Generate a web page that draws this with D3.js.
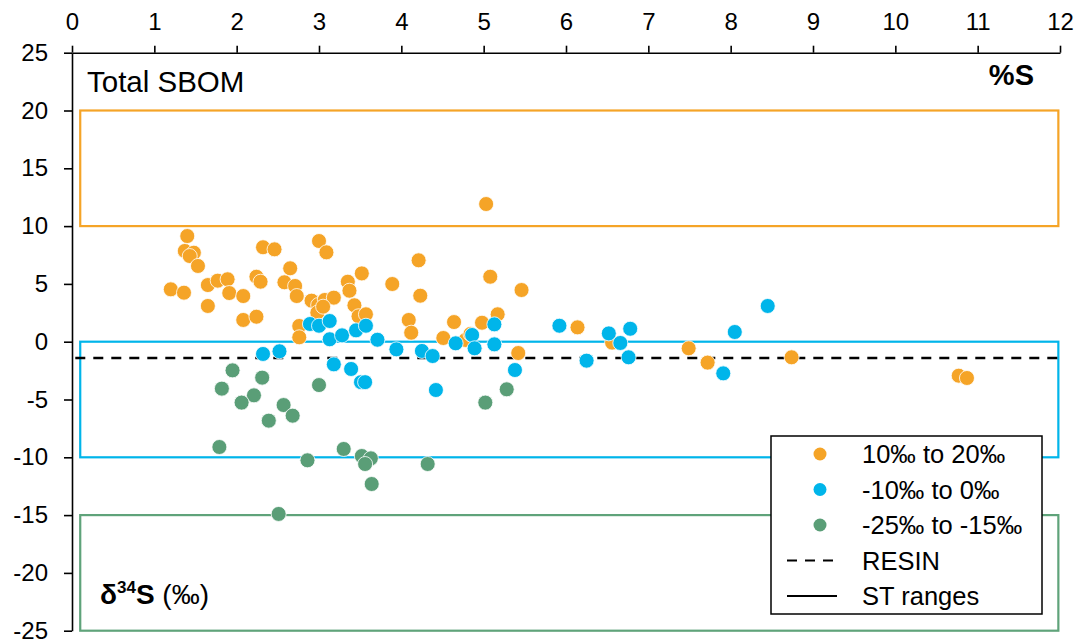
<!DOCTYPE html>
<html>
<head>
<meta charset="utf-8">
<script src="https://cdn.jsdelivr.net/npm/d3@7"></script>
<style>
  body { margin: 0; background: #fff; }
  svg { font-family: "Liberation Sans", Arial, sans-serif; }
</style>
</head>
<body>
<div id="vis_container"></div>
<script>
// %S (x) and d34S (y)
var orangePts = [
  [1.40,9.14],[1.37,7.85],[1.48,7.7],[1.43,7.41],[1.53,6.55],[1.20,4.53],[1.36,4.24],
  [1.65,4.9],[1.77,5.28],[1.89,5.4],[1.91,4.21],[1.65,3.09],[2.08,3.95],[2.08,1.88],
  [2.24,2.16],[2.24,5.62],[2.29,5.19],[2.32,8.17],[2.46,7.99],[2.65,6.35],[2.58,5.14],
  [2.71,4.82],[2.73,3.95],[2.76,1.36],[2.76,0.38],[3.00,8.71],[3.09,7.73],[2.91,3.55],
  [2.99,3.17],[3.07,3.61],[3.18,3.81],[2.98,2.51],[3.05,3.03],[3.35,5.19],[3.37,4.41],
  [3.52,5.91],[3.43,3.15],[3.48,2.2],[3.57,2.37],[5.03,11.91],[3.89,4.99],[4.21,7.04],
  [4.23,3.98],[4.09,1.88],[4.12,0.78],[5.08,5.62],[5.46,4.47],[5.17,2.37],[4.98,1.64],
  [4.64,1.70],[4.51,0.32],[4.78,0.15],[4.84,0.67],[5.42,-0.98],[6.14,1.24],[6.56,-0.08],
  [7.49,-0.57],[7.72,-1.81],[8.74,-1.35],[10.77,-2.94],[10.87,-3.14]
];
var bluePts = [
  [2.89,1.53],[3.00,1.38],[3.13,1.79],[3.13,0.21],[3.28,0.55],[3.45,0.98],[3.57,1.38],
  [3.71,0.17],[2.32,-1.06],[2.52,-0.83],[3.18,-1.96],[3.39,-2.36],[3.51,-3.5],[3.56,-3.5],
  [3.94,-0.66],[4.25,-0.80],[4.38,-1.24],[4.66,-0.14],[4.86,0.58],[4.89,-0.57],[5.13,1.50],
  [5.13,-0.23],[5.38,-2.45],[5.92,1.38],[6.25,-1.64],[6.52,0.72],[6.66,-0.11],[6.78,1.12],
  [6.76,-1.35],[8.05,0.84],[7.91,-2.74],[8.45,3.09],[4.42,-4.18]
];
var greenPts = [
  [1.95,-2.48],[1.82,-4.06],[2.31,-3.11],[2.21,-4.64],[2.06,-5.27],[2.57,-5.48],[2.68,-6.40],
  [2.39,-6.83],[3.00,-3.75],[1.79,-9.11],[2.86,-10.26],[3.30,-9.28],[3.52,-9.89],[3.63,-10.09],
  [3.56,-10.58],[3.64,-12.31],[4.32,-10.58],[2.51,-14.90],[5.02,-5.27],[5.28,-4.12]
];
var seriesNames = ["10‰ to 20‰", "-10‰ to 0‰", "-25‰ to -15‰"];
var seriesColors = ["#F5A427", "#00B5EA", "#5A9E77"];
// ST ranges: [x0, x1, yLow, yHigh]
var stRanges = [[0.1, 11.98, 10, 20], [0.1, 11.98, -10, 0], [0.1, 11.98, -25, -15]];
var boxColors = ["#F5A427", "#00B5EA", "#5FA37A"];
var resinValue = -1.4;
var xTicks = d3.range(0, 13);
var yTicks = d3.range(-25, 26, 5);

var chart = {};
chart.width = 1083;
chart.height = 644;

chart.svg = d3.select("#vis_container").append("svg")
	.attr("width", chart.width)
	.attr("height", chart.height);

chart.x = d3.scaleLinear().domain([0, 12]).range([72, 1060]);
chart.y = d3.scaleLinear().domain([-25, 25]).range([630.7, 52.7]);

// ST range boxes
chart.svg.selectAll(".st")
	.data(stRanges)
	.enter().append("rect")
	.attr("class", "st")
	.attr("x", function(d) { return chart.x(d[0]); })
	.attr("y", function(d) { return chart.y(d[3]); })
	.attr("width", function(d) { return chart.x(d[1]) - chart.x(d[0]); })
	.attr("height", function(d) { return chart.y(d[2]) - chart.y(d[3]); })
	.attr("fill", "none")
	.attr("stroke", function(d, i) { return boxColors[i]; })
	.attr("stroke-width", 2.2);

// RESIN line
chart.svg.append("line")
	.attr("x1", chart.x(0.04))
	.attr("x2", chart.x(12))
	.attr("y1", chart.y(resinValue))
	.attr("y2", chart.y(resinValue))
	.attr("stroke", "#000")
	.attr("stroke-width", 2.5)
	.attr("stroke-dasharray", "10,8");

// axes (plain hyphen for negatives, like the original)
var plain = function(d) { return String(d); };
chart.xAxis = chart.svg.append("g")
	.attr("transform", "translate(0," + chart.y(25) + ")")
	.call(d3.axisTop(chart.x).tickValues(xTicks).tickFormat(plain).tickSize(7).tickSizeOuter(0).tickPadding(16));
chart.yAxis = chart.svg.append("g")
	.attr("transform", "translate(" + chart.x(0) + ",0)")
	.call(d3.axisLeft(chart.y).tickValues(yTicks).tickFormat(plain).tickSize(8).tickSizeOuter(0).tickPadding(16));

chart.svg.selectAll(".domain, .tick line")
	.attr("stroke", "#000")
	.attr("stroke-width", 1.6);
chart.svg.selectAll(".tick text")
	.attr("font-size", 24)
	.attr("font-family", "Liberation Sans, Arial, sans-serif")
	.attr("fill", "#000");

// points
[orangePts, bluePts, greenPts].forEach(function(pts, i) {
	chart.svg.append("g").selectAll("circle")
		.data(pts)
		.enter().append("circle")
		.attr("cx", function(d) { return chart.x(d[0]); })
		.attr("cy", function(d) { return chart.y(d[1]); })
		.attr("r", 7.5)
		.attr("fill", seriesColors[i])
		.attr("stroke", "#fff")
		.attr("stroke-width", 0.8);
});

// labels
chart.svg.append("text")
	.attr("x", 87).attr("y", 92)
	.attr("font-size", 29.5)
	.text("Total SBOM");
chart.svg.append("text")
	.attr("x", 1034).attr("y", 85)
	.attr("text-anchor", "end")
	.attr("font-size", 29)
	.attr("font-weight", "bold")
	.text("%S");
var ylab = chart.svg.append("text")
	.attr("x", 100).attr("y", 604)
	.attr("font-size", 28);
ylab.append("tspan").attr("font-weight", "bold").text("δ");
ylab.append("tspan").attr("font-weight", "bold").attr("font-size", 17).attr("dy", -11).text("34");
ylab.append("tspan").attr("font-weight", "bold").attr("dy", 11).text("S");
ylab.append("tspan").text(" (‰)");

// legend
chart.legend = chart.svg.append("g");
chart.legend.append("rect")
	.attr("x", 771).attr("y", 436)
	.attr("width", 271).attr("height", 178)
	.attr("fill", "#fff")
	.attr("stroke", "#000")
	.attr("stroke-width", 1.5);
var rowY = function(i) { return 454 + i * 35.5; };
seriesNames.forEach(function(name, i) {
	chart.legend.append("circle")
		.attr("cx", 820).attr("cy", rowY(i))
		.attr("r", 6.5)
		.attr("fill", seriesColors[i]);
	chart.legend.append("text")
		.attr("x", 862).attr("y", rowY(i)).attr("dy", "0.36em")
		.attr("font-size", 25.5)
		.text(name);
});
chart.legend.append("line")
	.attr("x1", 787).attr("x2", 833)
	.attr("y1", rowY(3)).attr("y2", rowY(3))
	.attr("stroke", "#000").attr("stroke-width", 2.2)
	.attr("stroke-dasharray", "10,8");
chart.legend.append("text")
	.attr("x", 862).attr("y", rowY(3)).attr("dy", "0.36em")
	.attr("font-size", 25.5).text("RESIN");
chart.legend.append("line")
	.attr("x1", 787).attr("x2", 837)
	.attr("y1", rowY(4)).attr("y2", rowY(4))
	.attr("stroke", "#000").attr("stroke-width", 2.2);
chart.legend.append("text")
	.attr("x", 862).attr("y", rowY(4)).attr("dy", "0.36em")
	.attr("font-size", 25.5).text("ST ranges");
</script>
</body>
</html>
